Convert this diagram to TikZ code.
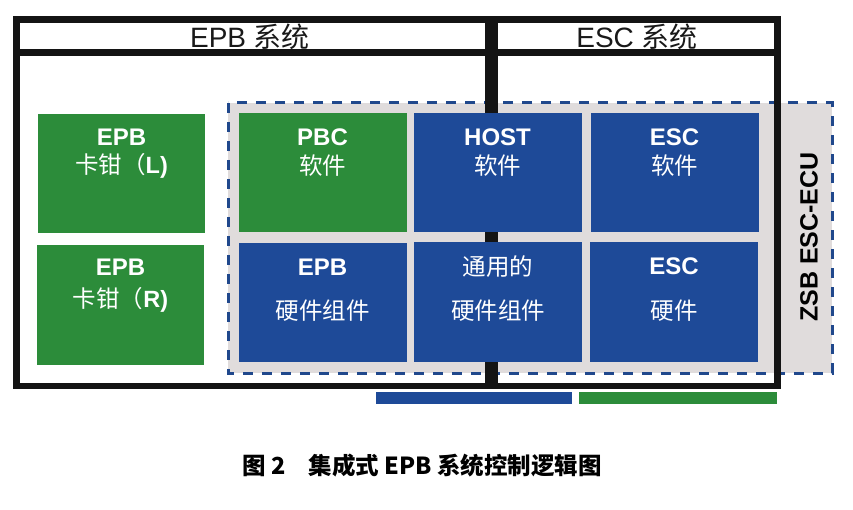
\documentclass[tikz,border=0pt]{standalone}
\usepackage{fontspec}
\usepackage{xcolor}
\setmainfont{Liberation Sans}
\newfontfamily\cjk{Noto Sans CJK SC}
\definecolor{boxgreen}{RGB}{44,140,58}
\definecolor{boxblue}{RGB}{30,74,152}
\definecolor{ecugray}{RGB}{224,220,220}
\definecolor{dashblue}{RGB}{32,72,140}

\begin{document}
\begin{tikzpicture}[x=1pt,y=-1pt]
\useasboundingbox (0,0) rectangle (853,510);
     \tikzstyle{ecu}=[fill=ecugray,draw=dashblue,line width=3pt,dash pattern=on 10pt off 9pt]
     \tikzstyle{sys}=[draw=black!92,line width=6.5pt]
     \tikzstyle{gbox}=[rectangle,fill=boxgreen,minimum width=168pt,minimum height=119pt,inner sep=0pt]
     \tikzstyle{bbox}=[gbox,fill=boxblue]
     \tikzstyle{head}=[text=white,inner sep=0pt,font=\fontsize{24}{24}\selectfont\bfseries]
     \tikzstyle{sub}=[text=white,inner sep=0pt,font=\fontsize{23.5}{24}\selectfont\cjk]
     \tikzstyle{title}=[text=black!90,inner sep=0pt,font=\fontsize{28}{28}\selectfont]

     % ZSB ESC-ECU area
     \draw[ecu] (228,103) rectangle (832,373);
     \node[inner sep=0pt,rotate=90,font=\fontsize{25}{25}\selectfont\bfseries] (zsb) at (809,237) {ZSB ESC-ECU};

     % system frames
     \draw[sys] (16.5,19.5) rectangle (488,386);
     \draw[sys] (16.5,52.5) -- (488,52.5);
     \draw[sys] (494.5,19.5) rectangle (777.5,386);
     \draw[sys] (494.5,52.5) -- (777.5,52.5);
     \node[title] (epbsys) at (250,37) {EPB {\cjk 系统}};
     \node[title] (escsys) at (637,37) {ESC {\cjk 系统}};

     \node[gbox,minimum width=167pt] (calL) at (121.5,173.5) {};
     \node[gbox,minimum width=167pt] (calR) at (120.5,305) {};
     \node[gbox] (pbc) at (322.5,173) {};
     \node[bbox] (host) at (497.5,173) {};
     \node[bbox] (escsw) at (674.5,173) {};
     \node[bbox] (epbhw) at (322.5,302.5) {};
     \node[bbox] (comhw) at (498,302) {};
     \node[bbox] (eschw) at (674,302) {};

     \node[head] (calLa) at (121.5,137) {EPB};
     \node[sub] (calLb) at (121.5,166) {卡钳（{\rmfamily\bfseries L)}};
     \node[head] (calRa) at (120.5,267) {EPB};
     \node[sub] (calRb) at (120.5,300) {卡钳（{\rmfamily\bfseries R)}};
     \node[head] (pbca) at (322.5,137) {PBC};
     \node[sub] (pbcb) at (322.5,166) {软件};
     \node[head] (hosta) at (497.5,137) {HOST};
     \node[sub] (hostb) at (497.5,166) {软件};
     \node[head] (escswa) at (674.5,137) {ESC};
     \node[sub] (escswb) at (674.5,166) {软件};
     \node[head] (epbhwa) at (322.5,267) {EPB};
     \node[sub] (epbhwb) at (322.5,311) {硬件组件};
     \node[sub] (comhwa) at (498,267) {通用的};
     \node[sub] (comhwb) at (498,311) {硬件组件};
     \node[head] (eschwa) at (674,266) {ESC};
     \node[sub] (eschwb) at (674,311) {硬件};

     % cut boxes below the frame
     \node[rectangle,fill=boxblue,minimum width=196pt,minimum height=12pt,inner sep=0pt] (strip1) at (474,398) {};
     \node[rectangle,fill=boxgreen,minimum width=198pt,minimum height=12pt,inner sep=0pt] (strip2) at (678,398) {};

     \node[inner sep=0pt,font=\fontsize{23.5}{24}\selectfont\cjk\bfseries] (caption) at (422,466) {图 2\quad 集成式 EPB 系统控制逻辑图};
\end{tikzpicture}
\end{document}
